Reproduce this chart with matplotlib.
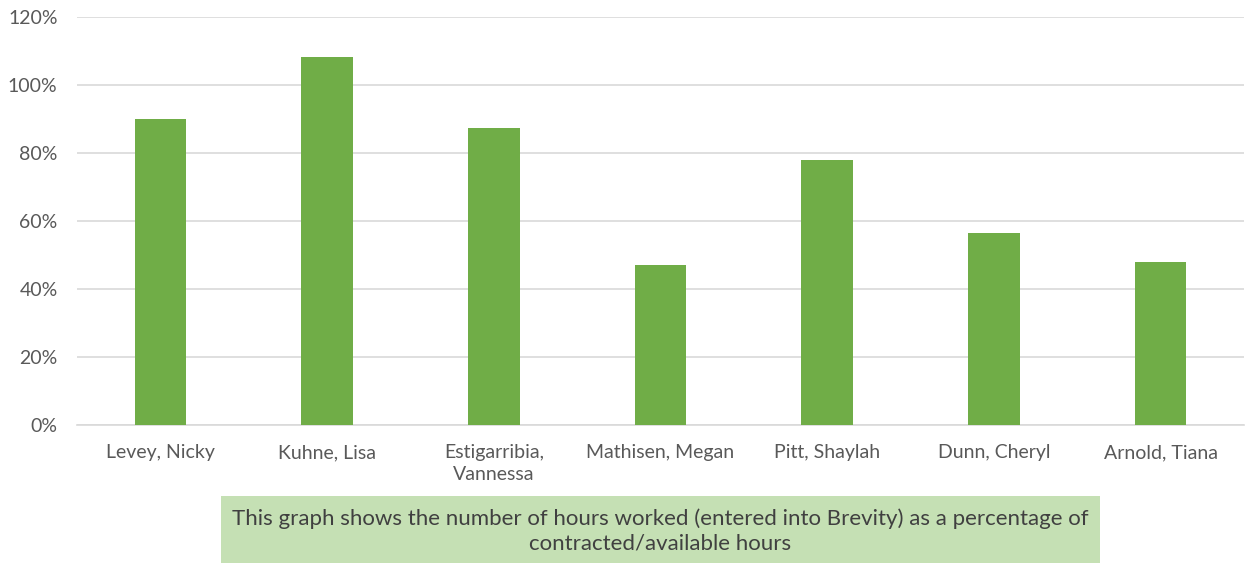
import matplotlib
matplotlib.use("Agg")
import matplotlib.pyplot as plt
from matplotlib.patches import Rectangle
from matplotlib.ticker import PercentFormatter

names = ["Levey, Nicky", "Kuhne, Lisa", "Estigarribia,\nVannessa", "Mathisen, Megan",
         "Pitt, Shaylah", "Dunn, Cheryl", "Arnold, Tiana"]
values = [0.90, 1.083, 0.873, 0.47, 0.778, 0.564, 0.479]
yticks = [0, 0.2, 0.4, 0.6, 0.8, 1.0, 1.2]
note = "This graph shows the number of hours worked (entered into Brevity) as a percentage of\ncontracted/available hours"

plt.rcParams['font.family'] = ['Lato', 'DejaVu Sans']

W, H = 1249, 563
fig = plt.figure(figsize=(W/100, H/100), dpi=100)
ax = fig.add_axes([77/W, 1-425/H, (1244-77)/W, (425-17)/H])

x = range(len(names))
ax.bar(x, values, width=0.31, color="#70AD47", zorder=3)
ax.set_xlim(-0.5, len(names)-0.5)
ax.set_ylim(0, 1.2)
ax.set_yticks(yticks)
ax.yaxis.set_major_formatter(PercentFormatter(1.0, decimals=0))
ax.set_xticks(list(x))
ax.set_xticklabels(names, linespacing=1.3)
ax.grid(axis='y', color="#D9D9D9", linewidth=1.2, zorder=0)
for s in ["top", "right", "left"]:
    ax.spines[s].set_visible(False)
ax.spines["bottom"].set_color("#D9D9D9")
ax.spines["bottom"].set_linewidth(1.2)
ax.tick_params(axis='both', length=0, labelsize=14, labelcolor="#595959")
ax.tick_params(axis='y', pad=14)
ax.tick_params(axis='x', pad=14)

fig.patches.append(Rectangle((221/W, 0), (1100-221)/W, (563-496)/H,
                             transform=fig.transFigure, facecolor="#C5E0B4",
                             edgecolor="none", zorder=0))
fig.text(660/W, 1-531/H, note, ha="center", va="center", fontsize=16,
         color="#404040", linespacing=1.25)

fig.savefig("out.png", dpi=100)
